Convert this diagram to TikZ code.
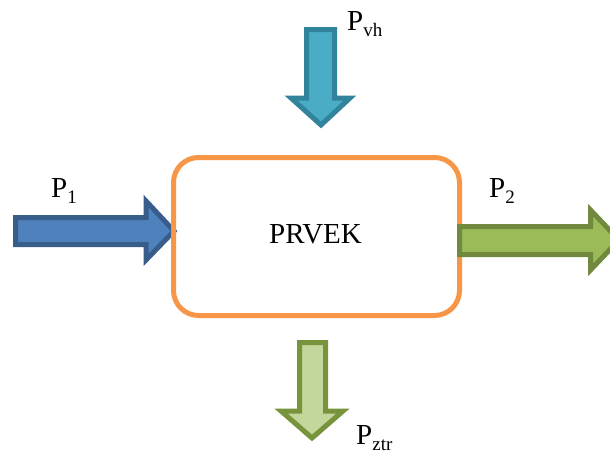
\documentclass[tikz,border=0pt]{standalone}
\usepackage{fontspec}
\setmainfont{Liberation Serif}
\definecolor{boxor}{HTML}{F79646}
\definecolor{bluef}{HTML}{4F81BD}
\definecolor{blued}{HTML}{385D8A}
\definecolor{tealf}{HTML}{4BACC6}
\definecolor{teald}{HTML}{31849B}
\definecolor{greenf}{HTML}{9BBB59}
\definecolor{greend}{HTML}{71893F}
\definecolor{lgreenf}{HTML}{C3D69B}
\definecolor{lgreend}{HTML}{77933C}
\newcommand{\Psub}[1]{P\raisebox{-6pt}{\fontsize{19}{19}\selectfont #1}}
\tikzset{
  fatarrow/.style={line width=5pt, line join=miter},
  lbl/.style={inner sep=0pt, anchor=base west, font=\fontsize{29}{29}\selectfont},
  boxstyle/.style={draw=boxor, line width=5pt, rounded corners=25pt}
}
\begin{document}
\begin{tikzpicture}[x=1pt,y=-1pt]
\useasboundingbox (0,0) rectangle (610,455);
% left arrow
\draw[fatarrow, draw=blued, fill=bluef] (15.5,217.5) -- (146,217.5) -- (146,201) -- (174,231) -- (146,260) -- (146,244.5) -- (15.5,244.5) -- cycle;
% box
\draw[boxstyle] (173.5,157.5) rectangle (459.5,315.5);
\node[inner sep=0pt, anchor=base, font=\fontsize{29}{29}\selectfont] (prvek) at (315.5,243.5) {PRVEK};
% top arrow
\draw[fatarrow, draw=teald, fill=tealf] (306.5,29.5) -- (334.5,29.5) -- (334.5,98) -- (350,98) -- (321,125) -- (291,98) -- (306.5,98) -- cycle;
% right arrow
\draw[fatarrow, draw=greend, fill=greenf] (459.5,226.5) -- (590.5,226.5) -- (590.5,210) -- (619,240) -- (590.5,270) -- (590.5,254.5) -- (459.5,254.5) -- cycle;
% bottom arrow
\draw[fatarrow, draw=lgreend, fill=lgreenf] (299.5,342.5) -- (325.5,342.5) -- (325.5,411) -- (343,411) -- (312,438) -- (281,411) -- (299.5,411) -- cycle;
% labels
\node[lbl] (pvh) at (347,30.5) {\Psub{vh}};
\node[lbl] (p1) at (51,197.5) {\Psub{1}};
\node[lbl] (p2) at (489,197.5) {\Psub{2}};
\node[lbl] (pztr) at (356,444) {\Psub{ztr}};
\end{tikzpicture}
\end{document}
